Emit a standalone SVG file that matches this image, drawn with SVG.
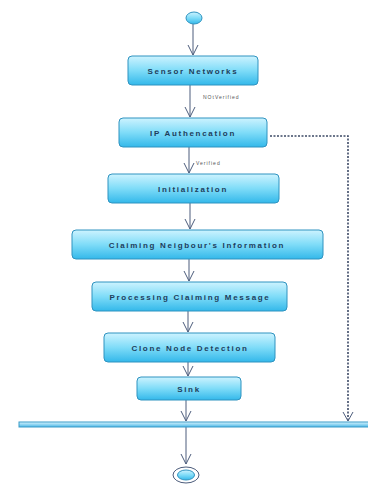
<svg xmlns="http://www.w3.org/2000/svg" width="368" height="484" viewBox="0 0 368 484">
<defs>
<linearGradient id="g" x1="0" y1="0" x2="0" y2="1">
<stop offset="0" stop-color="#cdf3ff"/>
<stop offset="0.5" stop-color="#7fdcf8"/>
<stop offset="1" stop-color="#33b8ea"/>
</linearGradient>
<linearGradient id="gb" x1="0" y1="0" x2="0" y2="1">
<stop offset="0" stop-color="#d8f4ff"/>
<stop offset="1" stop-color="#4cb8e6"/>
</linearGradient>
<marker id="a" markerWidth="12" markerHeight="12" refX="11" refY="6" orient="auto" markerUnits="userSpaceOnUse" viewBox="0 0 12 12">
<path d="M1,1 L11,6 L1,11" fill="none" stroke="#4d5d7c" stroke-width="1"/>
</marker>
</defs>
<style>
.n{fill:url(#g);stroke:#2f93c0;stroke-width:1}
.t{font-family:"Liberation Sans",Arial,sans-serif;font-size:8px;font-weight:bold;fill:#1e3d5c;text-anchor:middle;letter-spacing:1.7px}
.c{stroke:#4d5d7c;stroke-width:1;fill:none}
.l{font-family:"Liberation Sans",Arial,sans-serif;font-size:5px;fill:#555;letter-spacing:1px}
</style>
<rect width="368" height="484" fill="#fff"/>
<g id="connectors">
<line class="c" x1="193" y1="24" x2="193" y2="55" marker-end="url(#a)"/>
<line class="c" x1="190" y1="85" x2="190" y2="117" marker-end="url(#a)"/>
<line class="c" x1="189" y1="147" x2="189" y2="173" marker-end="url(#a)"/>
<line class="c" x1="190" y1="203" x2="190" y2="229" marker-end="url(#a)"/>
<line class="c" x1="189" y1="259" x2="189" y2="281" marker-end="url(#a)"/>
<line class="c" x1="188" y1="311" x2="188" y2="332" marker-end="url(#a)"/>
<line class="c" x1="188" y1="362" x2="188" y2="376" marker-end="url(#a)"/>
<line class="c" x1="186" y1="400" x2="186" y2="421" marker-end="url(#a)"/>
<line class="c" x1="186" y1="427" x2="186" y2="464" marker-end="url(#a)"/>
<polyline points="270,136 348,136 348,421" fill="none" stroke="#3d4a66" stroke-dasharray="2,1.5" stroke-width="1.6"/>
<path class="c" d="M343,412 L348,421 L353,412"/>
<text class="l" x="203" y="99">NOtVerified</text>
<text class="l" x="196" y="165" letter-spacing="0">Verified</text>
</g>
<g id="start"><ellipse cx="194" cy="18" rx="8" ry="6" class="n"/></g>
<g id="sensor"><rect class="n" x="128" y="56" width="130" height="29" rx="4"/><text class="t" x="193" y="74">Sensor Networks</text></g>
<g id="ip"><rect class="n" x="119" y="118" width="148" height="29" rx="4"/><text class="t" x="193" y="136">IP Authencation</text></g>
<g id="init"><rect class="n" x="108" y="174" width="171" height="29" rx="4"/><text class="t" x="193" y="192">Initialization</text></g>
<g id="claim"><rect class="n" x="72" y="230" width="251" height="29" rx="4"/><text class="t" x="197" y="248">Claiming Neigbour's Information</text></g>
<g id="proc"><rect class="n" x="92" y="282" width="195" height="29" rx="4"/><text class="t" x="190" y="300">Processing Claiming Message</text></g>
<g id="clone"><rect class="n" x="104" y="333" width="171" height="29" rx="4"/><text class="t" x="190" y="351">Clone Node Detection</text></g>
<g id="sink"><rect class="n" x="137" y="377" width="104" height="23" rx="4"/><text class="t" x="189" y="392">Sink</text></g>
<g id="bar"><rect x="19" y="422" width="352" height="5" fill="url(#gb)" stroke="#3a9bc8" stroke-width="1"/></g>
<g id="end"><ellipse cx="186" cy="475" rx="13" ry="8" fill="#fff" stroke="#4d5d7c" stroke-width="1"/><ellipse cx="186" cy="475" rx="8.5" ry="5" class="n"/></g>
</svg>
